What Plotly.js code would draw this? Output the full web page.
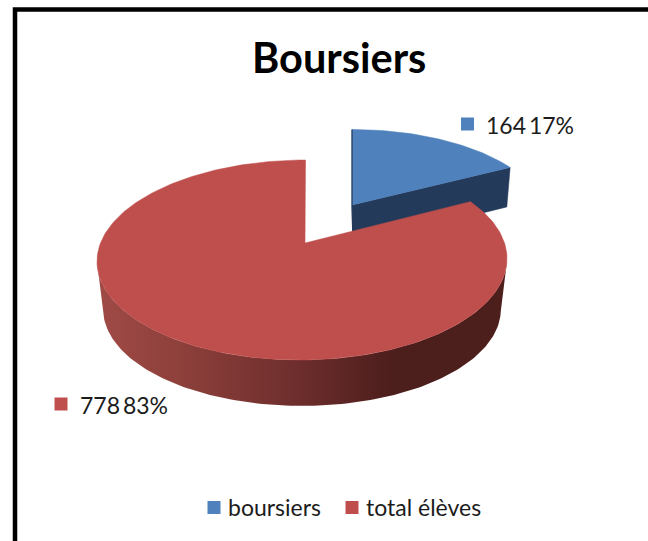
<!DOCTYPE html>
<html>
<head>
<meta charset="utf-8">
<script src="https://cdn.plot.ly/plotly-3.0.1.min.js"></script>
<style>html,body{margin:0;padding:0;background:#fff}#chart{width:648px;height:541px}</style>
</head>
<body>
<div id="chart"></div>
<script>
const chartTitle = 'Boursiers';
const categories = ['boursiers', 'total élèves'];
const values = [164, 778];
const percents = [17, 83];
const topColors = ['#4f81bd', '#bf4f4c'];
const wallBlue = '#243a5a';
const wallRedScale = [[0,'#a04a46'],[0.2,'#8e403b'],[0.5,'#6c2d2c'],[0.72,'#4c1e1c'],[1,'#4c1e1c']];

const total = values[0] + values[1];
const split = values[0] / total * 2 * Math.PI;
const A = 97.1, B = 202, k = 0.17;
function pt(t, g) {
  const u = Math.sin(t), v = Math.cos(t), d = 1 + k * v;
  return [g.ax + g.sx * B * u / d + (g.skew || 0) * (v + k), g.ay - g.sy * A * v / d];
}
function arc(t0, t1, g) {
  const n = Math.max(2, Math.ceil(Math.abs(t1 - t0) / 0.02)), xs = [], ys = [];
  for (let i = 0; i <= n; i++) {
    const p = pt(t0 + (t1 - t0) * i / n, g);
    xs.push(p[0]); ys.push(p[1]);
  }
  return [xs, ys];
}
function poly(xs, ys, color) {
  return {type:'scatter', mode:'lines', x:xs, y:ys, fill:'toself', fillcolor:color,
    line:{color:color, width:0.5}, hoverinfo:'skip', showlegend:false};
}
const traces = [];

// blue wall (front cut face)
const blueTop = {ax:352, ay:205, sx:0.95, sy:0.91};
const blueLow = {ax:353, ay:245, sx:0.924, sy:0.92};
const bT = pt(split, blueTop);
const bL = pt(split, blueLow);
traces.push(poly([blueTop.ax, bT[0], bL[0], blueLow.ax, blueTop.ax], [blueTop.ay, bT[1], bL[1], blueLow.ay, blueTop.ay], wallBlue));
// blue top
const ba = arc(0, split, blueTop);
traces.push(poly([blueTop.ax].concat(ba[0], [blueTop.ax]), [blueTop.ay].concat(ba[1], [blueTop.ay]), topColors[0]));
const b0 = pt(0, blueTop);
traces.push({type:'scatter', mode:'lines', x:[b0[0], blueTop.ax, blueLow.ax], y:[b0[1], blueTop.ay, blueLow.ay],
  line:{color:wallBlue, width:1.2}, hoverinfo:'skip', showlegend:false});

// red wall
const redTop = {ax:302, ay:243, sx:1, sy:1, skew:3};
const redLow = {ax:302, ay:293, sx:0.97, sy:0.965};
const wt = arc(Math.PI * 0.56, Math.PI * 1.44, redTop);
const wb = arc(Math.PI * 1.44, Math.PI * 0.56, redLow);
traces.push({type:'scatter', mode:'lines', x:wt[0].concat(wb[0]), y:wt[1].concat(wb[1]), fill:'toself',
  fillgradient:{type:'horizontal', colorscale:wallRedScale},
  line:{width:0}, hoverinfo:'skip', showlegend:false});
// red top
const apexX = 305;
const ra = arc(split, 2 * Math.PI, redTop);
traces.push(poly([apexX].concat(ra[0], [apexX]), [redTop.ay].concat(ra[1], [redTop.ay]), topColors[1]));

// label and legend keys
const labelX = [467.5, 61], labelY = [124, 404];
const keyX = [214, 352], keyY = [507.5, 507.5];
traces.push({type:'scatter', mode:'markers', x:labelX, y:labelY, marker:{symbol:'square', size:13, color:topColors}, hoverinfo:'skip', showlegend:false});
traces.push({type:'scatter', mode:'markers', x:keyX, y:keyY, marker:{symbol:'square', size:13, color:topColors}, hoverinfo:'skip', showlegend:false});

const family = 'Lato, "Open Sans", sans-serif';
const annotations = [];
values.forEach((v, i) => {
  annotations.push({x:labelX[i] + 16.5, y:labelY[i] + 1, xref:'x', yref:'y', xanchor:'left', yanchor:'middle', showarrow:false, text:v + '\u2009' + percents[i] + '%', font:{family:family, size:23, color:'#1c1c1c'}});
  annotations.push({x:keyX[i] + 11.5, y:keyY[i] - 1, xref:'x', yref:'y', xanchor:'left', yanchor:'middle', showarrow:false, text:categories[i], font:{family:family, size:23, color:'#1c1c1c'}});
});
annotations.push({x:339, y:57, xref:'x', yref:'y', xanchor:'center', yanchor:'middle', showarrow:false, text:'<b>' + chartTitle + '</b>', font:{family:family, size:41.5, color:'#000'}});

const layout = {
  width:648, height:541, margin:{l:0, r:0, t:0, b:0}, paper_bgcolor:'#fff', plot_bgcolor:'#fff', showlegend:false,
  xaxis:{range:[0,648], visible:false, fixedrange:true},
  yaxis:{range:[541,0], visible:false, fixedrange:true},
  shapes:[{type:'rect', xref:'x', yref:'y', x0:15, y0:9.5, x1:700, y1:700, line:{color:'#000', width:4.5}, layer:'below'}],
  annotations:annotations
};
Plotly.newPlot('chart', traces, layout, {displayModeBar:false, staticPlot:true});
</script>
</body>
</html>
